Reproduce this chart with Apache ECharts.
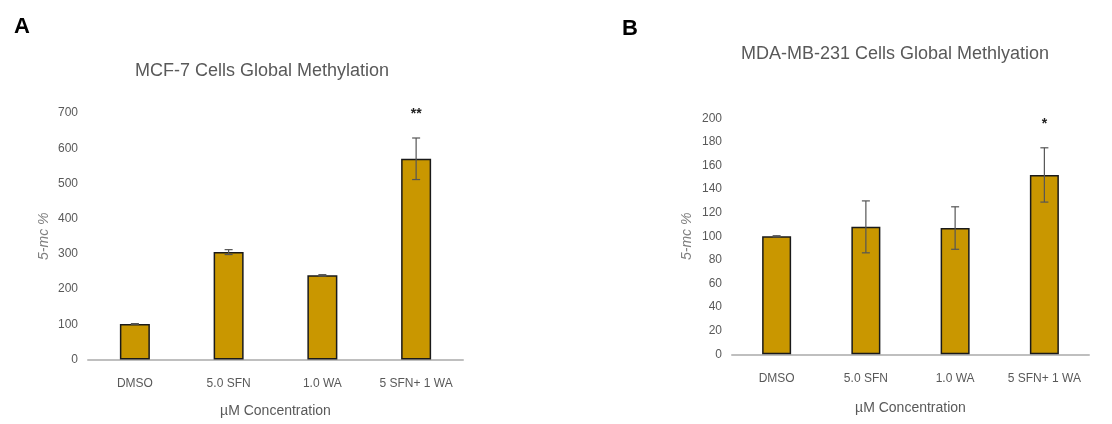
<!DOCTYPE html>
<html>
<head>
<meta charset="utf-8">
<script src="https://cdn.jsdelivr.net/npm/echarts@6/dist/echarts.min.js"></script>
<style>html,body{margin:0;padding:0;background:#fff}#c{width:1112px;height:424px}</style>
</head>
<body>
<div id="c"></div>
<script>
var categories = ['DMSO', '5.0 SFN', '1.0 WA', '5 SFN+ 1 WA'];
var mcfValues = [101, 305, 239, 570];
var mcfErrors = [1, 7, 2, 59];
var mcfSignif = ['', '', '', '**'];
var mdaValues = [100, 108, 107, 152];
var mdaErrors = [0.5, 22, 18, 23];
var mdaSignif = ['', '', '', '*'];
var mcfTicks = [0, 700, 100];
var mdaTicks = [0, 200, 20];

var FONT = '"Liberation Sans", Arial, sans-serif';
var GRAY = '#595959';
var BAR = '#C99700';

function errSeries(xi, vals, errs, sig) {
  return {
    type: 'custom', xAxisIndex: xi, yAxisIndex: xi, z: 10,
    data: vals.map(function (v, i) { return [i, v, errs[i]]; }),
    renderItem: function (params, api) {
      var i = api.value(0), v = api.value(1), e = api.value(2);
      var s = sig[params.dataIndex];
      var top = api.coord([i, v + e]), bot = api.coord([i, v - e]);
      var cap = 4;
      var st = { stroke: '#555', lineWidth: 1.2 };
      var ch = [
        { type: 'line', shape: { x1: top[0], y1: top[1], x2: bot[0], y2: bot[1] }, style: st },
        { type: 'line', shape: { x1: top[0] - cap, y1: top[1], x2: top[0] + cap, y2: top[1] }, style: st },
        { type: 'line', shape: { x1: bot[0] - cap, y1: bot[1], x2: bot[0] + cap, y2: bot[1] }, style: st }
      ];
      if (s) {
        ch.push({ type: 'text', x: top[0], y: top[1] - 24, style: { text: s, fill: '#222', font: 'bold 14px ' + FONT, align: 'center', verticalAlign: 'middle' } });
      }
      return { type: 'group', children: ch };
    }
  };
}

function yAx(gi, t, gap) {
  return {
    gridIndex: gi, type: 'value', min: t[0], max: t[1], interval: t[2],
    name: '5-mc %', nameLocation: 'middle', nameGap: gap,
    nameTextStyle: { color: '#7f7f7f', fontStyle: 'italic', fontSize: 14, fontFamily: FONT },
    axisLine: { show: false }, axisTick: { show: false }, splitLine: { show: false },
    axisLabel: { color: GRAY, fontSize: 12, fontFamily: FONT, margin: 10 }
  };
}
function xAx(gi, gap) {
  return {
    gridIndex: gi, type: 'category', data: categories,
    name: 'µM Concentration', nameLocation: 'middle', nameGap: gap,
    nameTextStyle: { color: GRAY, fontSize: 14, fontFamily: FONT },
    axisLine: { lineStyle: { color: '#bfbfbf', width: 2 } }, axisTick: { show: false },
    axisLabel: { color: GRAY, fontSize: 12, fontFamily: FONT, margin: 18, interval: 0 }
  };
}

var chart = echarts.init(document.getElementById('c'));
chart.setOption({
  animation: false,
  backgroundColor: '#fff',
  title: [
    { text: 'A', left: 9, top: 11, textStyle: { fontSize: 22, fontWeight: 'bold', color: '#000', fontFamily: FONT } },
    { text: 'B', left: 617, top: 13, textStyle: { fontSize: 22, fontWeight: 'bold', color: '#000', fontFamily: FONT } },
    { text: 'MCF-7 Cells Global Methylation', left: 257, textAlign: 'center', top: 57, textStyle: { fontSize: 18, fontWeight: 'normal', color: GRAY, fontFamily: FONT } },
    { text: 'MDA-MB-231 Cells Global Methlyation', left: 890, textAlign: 'center', top: 40, textStyle: { fontSize: 18, fontWeight: 'normal', color: GRAY, fontFamily: FONT } }
  ],
  grid: [
    { left: 88, top: 113, width: 375, height: 246.5 },
    { left: 732, top: 118.3, width: 357, height: 236 }
  ],
  xAxis: [xAx(0, 45), xAx(1, 47)],
  yAxis: [yAx(0, mcfTicks, 37), yAx(1, mdaTicks, 38)],
  series: [
    { type: 'bar', xAxisIndex: 0, yAxisIndex: 0, data: mcfValues, barWidth: 30,
      itemStyle: { color: BAR, borderColor: '#1a1a1a', borderWidth: 1.5 } },
    errSeries(0, mcfValues, mcfErrors, mcfSignif),
    { type: 'bar', xAxisIndex: 1, yAxisIndex: 1, data: mdaValues, barWidth: 29,
      itemStyle: { color: BAR, borderColor: '#1a1a1a', borderWidth: 1.5 } },
    errSeries(1, mdaValues, mdaErrors, mdaSignif)
  ]
});
</script>
</body>
</html>
